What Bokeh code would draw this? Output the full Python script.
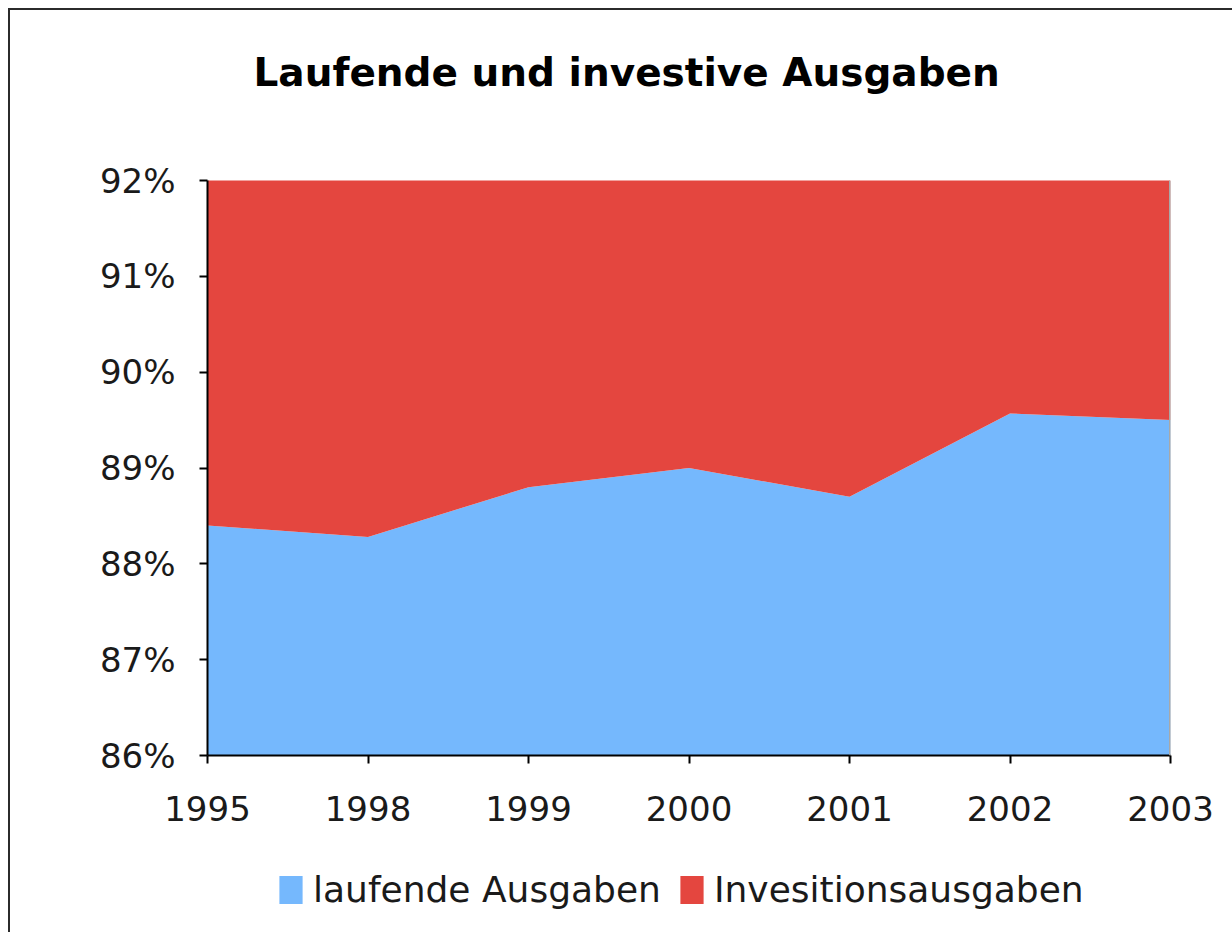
from bokeh.plotting import figure
from bokeh.layouts import column
from bokeh.models import (Legend, LegendItem, Span, FixedTicker, Title,
                          PrintfTickFormatter, Range1d)
from bokeh.embed import file_html
from bokeh.resources import INLINE

years = ["1995", "1998", "1999", "2000", "2001", "2002", "2003"]
laufende = [88.4, 88.28, 88.8, 89.0, 88.7, 89.57, 89.5]
invest = [11.6, 11.72, 11.2, 11.0, 11.3, 10.43, 10.5]
y_ticks = [86, 87, 88, 89, 90, 91, 92]
title_text = "Laufende und investive Ausgaben"
series_names = ["laufende Ausgaben", "Invesitionsausgaben"]
colors = ["#75B8FD", "#E4463F"]

x = list(range(len(years)))
base = [y_ticks[0]] * len(years)
top = [a + b for a, b in zip(laufende, invest)]

p = figure(frame_width=963, frame_height=575,
           x_range=Range1d(x[0], x[-1]), y_range=Range1d(y_ticks[0], y_ticks[-1]),
           output_backend="svg", toolbar_location=None,
           min_border_left=197, min_border_right=62,
           min_border_top=170, min_border_bottom=95,
           background_fill_color="white", border_fill_color="white")
p.outline_line_color = None

# spacer between frame and title, then the title
p.add_layout(Title(text=" ", text_font_size="2px", standoff=77), "above")
p.add_layout(Title(text=title_text, align="left", offset=46,
                   text_font="DejaVu Sans", text_font_style="bold",
                   text_font_size="39px", text_color="black", standoff=10), "above")

r1 = p.varea(x=x, y1=base, y2=laufende, fill_color=colors[0])
r2 = p.varea(x=x, y1=laufende, y2=top, fill_color=colors[1])

p.add_layout(Span(location=x[-1], dimension="height", line_color="#a8a8a8", line_width=3))

p.xgrid.grid_line_color = None
p.ygrid.grid_line_color = None

p.xaxis.ticker = FixedTicker(ticks=x)
p.xaxis.major_label_overrides = {i: y for i, y in zip(x, years)}
p.yaxis.ticker = FixedTicker(ticks=y_ticks)
p.yaxis.formatter = PrintfTickFormatter(format="%d%%")
for ax in (p.xaxis, p.yaxis):
    ax.axis_line_color = "black"
    ax.axis_line_width = 2
    ax.major_tick_line_color = "black"
    ax.major_tick_line_width = 2
    ax.major_tick_out = 8
    ax.major_tick_in = 0
    ax.minor_tick_line_color = None
    ax.major_label_text_font = "DejaVu Sans"
    ax.major_label_text_font_size = "34px"
    ax.major_label_text_color = "#1a1a1a"
p.xaxis.major_label_standoff = 32
p.yaxis.major_label_standoff = 24

# legend strip below the chart (same series, drawn out of view; only legend shows)
lf = figure(width=1222, height=82, x_range=Range1d(0, 1), y_range=Range1d(0, 1),
            output_backend="svg", toolbar_location=None,
            x_axis_type=None, y_axis_type=None, min_border=0,
            background_fill_color="white", border_fill_color="white")
lf.outline_line_color = None
lf.grid.grid_line_color = None
d1 = lf.varea(x=x, y1=base, y2=laufende, fill_color=colors[0])
d2 = lf.varea(x=x, y1=laufende, y2=top, fill_color=colors[1])

legend = Legend(items=[LegendItem(label=series_names[0], renderers=[d1]),
                       LegendItem(label=series_names[1], renderers=[d2])],
                orientation="horizontal", location=(69, 22),
                border_line_color=None, background_fill_alpha=0,
                label_text_font="DejaVu Sans", label_text_font_size="36px",
                label_text_color="#1a1a1a",
                glyph_width=29, glyph_height=35, label_standoff=8, spacing=16,
                padding=4, margin=0)
lf.add_layout(legend, "center")

layout = column(p, lf, spacing=0)
layout.styles = {"border-left": "2px solid #2b2b2b", "border-top": "2px solid #2b2b2b",
                 "margin-left": "8px", "margin-top": "8px"}

open("out.html", "w").write(file_html(layout, INLINE))
